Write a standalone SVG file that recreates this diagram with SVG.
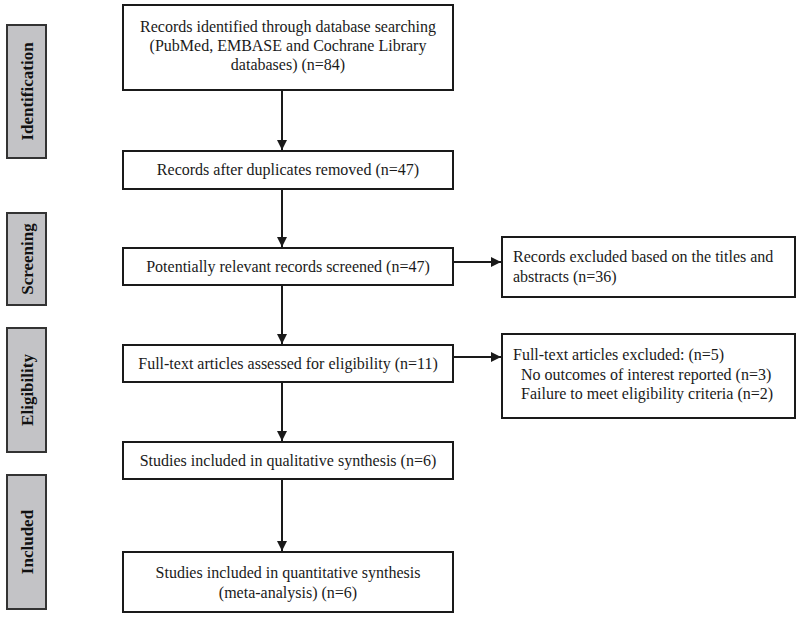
<svg xmlns="http://www.w3.org/2000/svg" width="800" height="619" viewBox="0 0 800 619">
<style>
.box{fill:#fff;stroke:#1a1a1a;stroke-width:2}
.side{fill:#c3c3c6;stroke:#333;stroke-width:2}
.t{font-family:"Liberation Serif","Times New Roman",serif;font-size:16px;fill:#1a1a1a}
.c{text-anchor:middle}
.s{font-family:"Liberation Serif","Times New Roman",serif;font-size:17px;font-weight:bold;fill:#111;text-anchor:middle}
.ln{stroke:#1a1a1a;stroke-width:2;fill:none}
</style>
<defs>
<marker id="ah" viewBox="0 0 10 10" refX="10" refY="5" markerWidth="5" markerHeight="5" markerUnits="strokeWidth" orient="auto">
<path d="M0,0 L10,5 L0,10 z" fill="#1a1a1a"/>
</marker>
</defs>
<rect width="800" height="619" fill="#fff"/>
<g id="side-identification"><rect class="side" x="7" y="25" width="39" height="133"/><text class="s" transform="translate(33,91.5) rotate(-90)">Identification</text></g>
<g id="side-screening"><rect class="side" x="7" y="213" width="39" height="92"/><text class="s" transform="translate(33,259) rotate(-90)">Screening</text></g>
<g id="side-eligibility"><rect class="side" x="7" y="328" width="39" height="124"/><text class="s" transform="translate(33,390) rotate(-90)">Eligibility</text></g>
<g id="side-included"><rect class="side" x="7" y="475" width="39" height="134"/><text class="s" transform="translate(33,542) rotate(-90)">Included</text></g>
<g id="n1"><rect class="box" x="123" y="5" width="330" height="85"/>
<text class="t c" x="288" y="32">Records identified through database searching</text>
<text class="t c" x="288" y="51">(PubMed, EMBASE and Cochrane Library</text>
<text class="t c" x="288" y="70">databases) (n=84)</text></g>
<g id="n2"><rect class="box" x="123" y="151" width="330" height="38"/><text class="t c" x="288" y="175">Records after duplicates removed (n=47)</text></g>
<g id="n3"><rect class="box" x="123" y="248" width="330" height="37"/><text class="t c" x="288" y="272">Potentially relevant records screened (n=47)</text></g>
<g id="n4"><rect class="box" x="123" y="345" width="330" height="37"/><text class="t c" x="288" y="369">Full-text articles assessed for eligibility (n=11)</text></g>
<g id="n5"><rect class="box" x="123" y="442" width="330" height="37"/><text class="t c" x="288" y="466">Studies included in qualitative synthesis (n=6)</text></g>
<g id="n6"><rect class="box" x="123" y="552" width="330" height="60"/>
<text class="t c" x="288" y="578">Studies included in quantitative synthesis</text>
<text class="t c" x="288" y="598">(meta-analysis) (n=6)</text></g>
<g id="x1"><rect class="box" x="502" y="237" width="293" height="60"/>
<text class="t" x="513" y="262">Records excluded based on the titles and</text>
<text class="t" x="513" y="282">abstracts (n=36)</text></g>
<g id="x2"><rect class="box" x="502" y="334" width="293" height="84"/>
<text class="t" x="513" y="360">Full-text articles excluded: (n=5)</text>
<text class="t" x="521" y="380">No outcomes of interest reported (n=3)</text>
<text class="t" x="521" y="399">Failure to meet eligibility criteria (n=2)</text></g>
<g id="connectors">
<line class="ln" x1="282" y1="90" x2="282" y2="150" marker-end="url(#ah)"/>
<line class="ln" x1="282" y1="189" x2="282" y2="247" marker-end="url(#ah)"/>
<line class="ln" x1="282" y1="285" x2="282" y2="344" marker-end="url(#ah)"/>
<line class="ln" x1="282" y1="382" x2="282" y2="441" marker-end="url(#ah)"/>
<line class="ln" x1="282" y1="479" x2="282" y2="551" marker-end="url(#ah)"/>
<line class="ln" x1="453" y1="262" x2="501" y2="262" marker-end="url(#ah)"/>
<line class="ln" x1="453" y1="357" x2="501" y2="357" marker-end="url(#ah)"/>
</g>
</svg>
